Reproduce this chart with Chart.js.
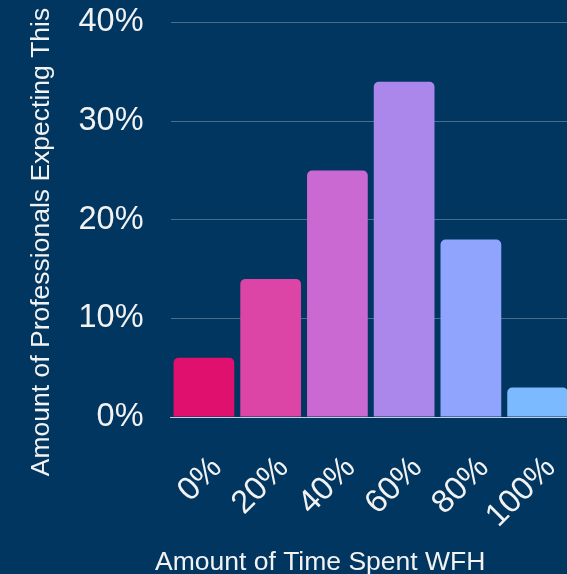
<!DOCTYPE html>
<html lang="en">
<head>
    <meta charset="UTF-8">
    <title>WFH expectations</title>
    <style>
        html, body { margin: 0; padding: 0; background: #003660; overflow: hidden; }
        .chart-container { position: relative; width: 571px; height: 574px; }
    </style>
</head>
<body>
    <div class="chart-container">
        <canvas id="myChart"></canvas>
    </div>

<script src="https://cdn.jsdelivr.net/npm/chart.js"></script>
<script>
// share of time spent working from home, and how many expect it
const wfhLabels = ['0%', '20%', '40%', '60%', '80%', '100%']
const expecting = [6, 14, 25, 34, 18, 3]
const barColors = ['#e0106f', '#dc45a6', '#c969d1', '#ab87ec', '#90a3fd', '#7bbafe']
const yTitle = 'Amount of Professionals Expecting This'
const xTitle = 'Amount of Time Spent WFH'

const textColor = '#f2f2f2'
const fontFamily = 'Liberation Sans'
const ctx = document.getElementById('myChart')

// axis titles drawn by hand, they don't sit centred on the plot
const axisTitles = {
    id: 'axisTitles',
    afterDraw(chart, args, options){
        const c = chart.ctx
        c.save()
        c.font = options.fontSize + 'px ' + options.fontFamily
        c.fillStyle = options.color
        // x title, under the tick labels
        c.textAlign = 'left'
        c.textBaseline = 'alphabetic'
        c.fillText(options.x.text, options.x.left, options.x.baseline)
        // y title, turned to read upwards
        c.translate(options.y.cx, options.y.cy)
        c.rotate(-Math.PI / 2)
        c.textAlign = 'center'
        c.textBaseline = 'middle'
        c.fillText(options.y.text, 0, 0)
        c.restore()
    }
}

const wfhChart = new Chart(ctx, {
    type: 'bar',
    data: {
        labels: wfhLabels,
        datasets: [{
            label: 'Expecting',
            data: expecting,
            backgroundColor: barColors,
            borderRadius: 5,
            barPercentage: 0.91,
            categoryPercentage: 1
        }]
    },
    options: {
        responsive: true,
        maintainAspectRatio: false,
        animation: false,
        layout: {
            padding: { top: 1, left: 75.5, right: 0, bottom: 38.6 }
        },
        plugins: {
            legend: { display: false },
            tooltip: { enabled: false },
            axisTitles: {
                fontSize: 26.5,
                fontFamily: fontFamily,
                color: textColor,
                x: { text: xTitle, left: 155, baseline: 569.5 },
                y: { text: yTitle, cx: 41.5, cy: 242 }
            }
        },
        scales: {
            x: {
                grid: {
                    drawOnChartArea: false,
                    tickLength: 32,
                    tickColor: 'transparent'
                },
                border: { color: 'rgba(220,225,240,0.85)', width: 1 },
                ticks: {
                    color: textColor,
                    font: { family: fontFamily, size: 32.5 },
                    minRotation: 45,
                    maxRotation: 45,
                    padding: 0,
                    labelOffset: 13
                }
            },
            y: {
                min: 0,
                max: 40,
                grid: {
                    color: 'rgba(255,255,255,0.28)',
                    tickLength: 24,
                    tickColor: 'transparent'
                },
                border: { display: false },
                ticks: {
                    stepSize: 10,
                    color: textColor,
                    font: { family: fontFamily, size: 32.5 },
                    padding: 3,
                    callback: v => v + '%'
                }
            }
        }
    },
    plugins: [axisTitles]
})
</script>
</body>
</html>
